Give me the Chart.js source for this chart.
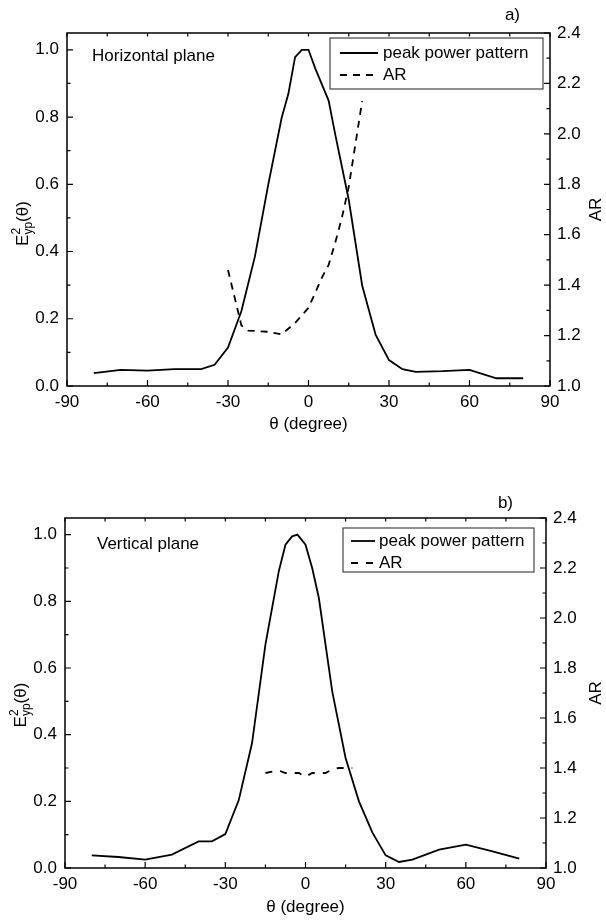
<!DOCTYPE html>
<html>
<head>
<meta charset="utf-8">
<script src="https://cdn.jsdelivr.net/npm/chart.js@4.4.1/dist/chart.umd.min.js"></script>
<style>
  body { margin: 0; background: #fff; }
  #wrap { position: relative; width: 606px; height: 920px; background: #fff; }
  canvas { position: absolute; left: 0; }
</style>
</head>
<body>
<div id="wrap">
  <canvas id="chartH" width="606" height="460" style="top:0"></canvas>
  <canvas id="chartV" width="606" height="460" style="top:460px"></canvas>
</div>
<script>
Chart.defaults.font.family = '"Liberation Sans", Arial, sans-serif';
Chart.defaults.font.size = 17;
Chart.defaults.color = '#000';

// a) horizontal plane
const thetaH = [-80, -70, -60, -50, -40, -35, -30, -25, -20, -15, -10, -7.5, -5, -2.5, 0, 2.5, 7.5, 10, 15, 20, 25, 30, 35, 40, 50, 60, 70, 80];
const powerH = [0.038, 0.048, 0.046, 0.050, 0.050, 0.063, 0.114, 0.223, 0.384, 0.599, 0.798, 0.869, 0.978, 1.0, 1.0, 0.945, 0.849, 0.747, 0.554, 0.299, 0.153, 0.077, 0.050, 0.042, 0.044, 0.048, 0.023, 0.023];
const thetaArH = [-30, -25, -22.5, -15, -10, -5, 0, 5, 7.5, 10, 12.5, 15, 17.5, 20];
const arH = [1.46, 1.24, 1.22, 1.215, 1.205, 1.25, 1.31, 1.43, 1.48, 1.57, 1.67, 1.79, 1.96, 2.13];

// b) vertical plane
const thetaV = [-80, -70, -60, -50, -40, -35, -30, -25, -20, -15, -10, -7.5, -5, -3, 0, 2.5, 5, 10, 15, 20, 25, 30, 35, 40, 50, 60, 70, 80];
const powerV = [0.038, 0.033, 0.025, 0.040, 0.080, 0.080, 0.102, 0.203, 0.375, 0.67, 0.89, 0.97, 0.995, 1.0, 0.97, 0.90, 0.81, 0.53, 0.33, 0.20, 0.107, 0.038, 0.018, 0.025, 0.055, 0.070, 0.050, 0.028];
const thetaArV = [-15, -10, -7.5, -2.5, 0, 2.5, 7.5, 10, 12.5, 17.5];
const arV = [1.38, 1.39, 1.38, 1.38, 1.365, 1.38, 1.38, 1.395, 1.40, 1.40];

const seriesNames = ['peak power pattern', 'AR'];
const xTitle = '\u03b8 (degree)';

function pts(xs, ys) {
  return xs.map((x, i) => ({ x: x, y: ys[i] }));
}

// frame, inward ticks, legend and labels
const deco = {
  id: 'deco',
  afterDatasetsDraw(chart, args, o) {
    const { ctx, chartArea: a, scales } = chart;
    ctx.save();
    ctx.strokeStyle = '#000';
    ctx.lineWidth = 1.5;
    ctx.strokeRect(a.left, a.top, a.right - a.left, a.bottom - a.top);

    ctx.lineWidth = 1.2;
    ctx.beginPath();
    scales.x.ticks.forEach(t => {
      const p = scales.x.getPixelForValue(t.value);
      const len = t.label !== '' ? 6 : 3.5;
      ctx.moveTo(p, a.bottom); ctx.lineTo(p, a.bottom - len);
      ctx.moveTo(p, a.top); ctx.lineTo(p, a.top + 3.5);
    });
    scales.y.ticks.forEach(t => {
      const p = scales.y.getPixelForValue(t.value);
      const len = t.label !== '' ? 6 : 3.5;
      ctx.moveTo(a.left, p); ctx.lineTo(a.left + len, p);
    });
    scales.y1.ticks.forEach(t => {
      const p = scales.y1.getPixelForValue(t.value);
      const len = t.label !== '' ? 6 : 3.5;
      ctx.moveTo(a.right, p); ctx.lineTo(a.right - len, p);
    });
    ctx.stroke();

    ctx.fillStyle = '#000';
    ctx.font = '17px "Liberation Sans", Arial, sans-serif';
    ctx.textBaseline = 'middle';

    // plane name
    ctx.textAlign = 'left';
    ctx.fillText(o.plane, a.left + o.planeDx, a.top + o.planeDy);

    // panel tag
    ctx.textAlign = 'right';
    ctx.fillText(o.panel, a.right - o.panelDx, a.top - o.panelDy);

    // legend
    const lg = o.legend;
    const bx = a.right - lg.right - lg.w;
    const by = a.top + lg.top;
    ctx.strokeStyle = '#444';
    ctx.lineWidth = 1.2;
    ctx.strokeRect(bx, by, lg.w, lg.h);
    ctx.textAlign = 'left';
    chart.data.datasets.forEach((ds, i) => {
      const ry = by + lg.rows[i];
      ctx.strokeStyle = '#000';
      ctx.lineWidth = ds.borderWidth;
      ctx.setLineDash(ds.borderDash || []);
      ctx.beginPath();
      ctx.moveTo(bx + lg.x0, ry);
      ctx.lineTo(bx + lg.x1, ry);
      ctx.stroke();
      ctx.setLineDash([]);
      ctx.fillText(ds.label, bx + lg.tx, ry);
    });

    // left title E^2_yp(theta)
    const cy = (a.top + a.bottom) / 2 + o.leftDy;
    ctx.save();
    ctx.translate(o.leftX, cy);
    ctx.rotate(-Math.PI / 2);
    const big = '17px "Liberation Sans", Arial, sans-serif';
    const small = '12px "Liberation Sans", Arial, sans-serif';
    ctx.textBaseline = 'alphabetic';
    ctx.font = big;
    const wE = ctx.measureText('E').width;
    const wP = ctx.measureText('(\u03b8)').width;
    ctx.font = small;
    const wS = Math.max(ctx.measureText('2').width, ctx.measureText('yp').width);
    let x0 = -(wE + wS + wP) / 2;
    const base = 6;
    ctx.font = big;
    ctx.fillText('E', x0, base);
    ctx.font = small;
    ctx.fillText('2', x0 + wE, base - 8);
    ctx.fillText('yp', x0 + wE, base + 4);
    ctx.font = big;
    ctx.fillText('(\u03b8)', x0 + wE + wS, base);
    ctx.restore();

    // right title AR
    ctx.save();
    ctx.translate(o.rightX, (a.top + a.bottom) / 2);
    ctx.rotate(-Math.PI / 2);
    ctx.textAlign = 'center';
    ctx.textBaseline = 'middle';
    ctx.fillText('AR', 0, 0);
    ctx.restore();

    ctx.restore();
  }
};

function makeChart(id, power, thetaAr, ar, theta, cfg) {
  const ctx = document.getElementById(id);
  return new Chart(ctx, {
    type: 'line',
    data: {
      datasets: [{
        label: seriesNames[0],
        data: pts(theta, power),
        yAxisID: 'y',
        borderColor: '#000',
        borderWidth: 1.8,
        pointRadius: 0,
        tension: 0,
        fill: false
      }, {
        label: seriesNames[1],
        data: pts(thetaAr, ar),
        yAxisID: 'y1',
        borderColor: '#000',
        borderWidth: 1.8,
        borderDash: cfg.dash,
        pointRadius: 0,
        tension: 0,
        fill: false
      }]
    },
    options: {
      responsive: false,
      animation: false,
      layout: { padding: { top: cfg.top, left: 0, right: 0, bottom: 0 } },
      plugins: {
        legend: { display: false },
        tooltip: { enabled: false },
        deco: cfg.deco
      },
      scales: {
        x: {
          type: 'linear',
          min: -90, max: 90,
          grid: { display: false, drawTicks: false },
          border: { display: false },
          ticks: {
            stepSize: 15, autoSkip: false, maxRotation: 0, padding: 6,
            callback: v => (v % 30 === 0 ? String(v) : '')
          },
          title: { display: true, text: xTitle, padding: { top: 0, bottom: cfg.titlePad } },
          afterFit: s => { s.height = 460 - cfg.bottom; }
        },
        y: {
          position: 'left',
          min: 0, max: 1.05,
          grid: { display: false, drawTicks: false },
          border: { display: false },
          ticks: {
            stepSize: 0.1, includeBounds: false, padding: 8,
            callback: v => (Math.round(v * 10) % 2 === 0 ? v.toFixed(1) : '')
          },
          afterFit: s => { s.width = cfg.left; }
        },
        y1: {
          position: 'right',
          min: 1.0, max: 2.4,
          grid: { display: false, drawTicks: false },
          border: { display: false },
          ticks: {
            stepSize: 0.1, includeBounds: false, padding: 7,
            callback: v => (Math.round(v * 10) % 2 === 0 ? v.toFixed(1) : '')
          },
          afterFit: s => { s.width = 606 - cfg.right; }
        }
      }
    },
    plugins: [deco]
  });
}

makeChart('chartH', powerH, thetaArH, arH, thetaH, {
  top: 33, bottom: 386, left: 67, right: 550, titlePad: 25, dash: [7, 6],
  deco: {
    plane: 'Horizontal plane', planeDx: 25, planeDy: 23,
    panel: 'a)', panelDx: 30, panelDy: 18,
    legend: { right: 7, top: 5, w: 213, h: 51, rows: [15, 37], x0: 10, x1: 48, tx: 53 },
    leftX: 22, leftDy: 14, rightX: 596
  }
});

makeChart('chartV', powerV, thetaArV, arV, thetaV, {
  top: 58, bottom: 408, left: 65, right: 546, titlePad: 2, dash: [7, 8],
  deco: {
    plane: 'Vertical plane', planeDx: 32, planeDy: 26,
    panel: 'b)', panelDx: 33, panelDy: 15,
    legend: { right: 12, top: 10, w: 191, h: 44, rows: [13, 35], x0: 8, x1: 32, tx: 36 },
    leftX: 20, leftDy: 12, rightX: 596
  }
});
</script>
</body>
</html>
